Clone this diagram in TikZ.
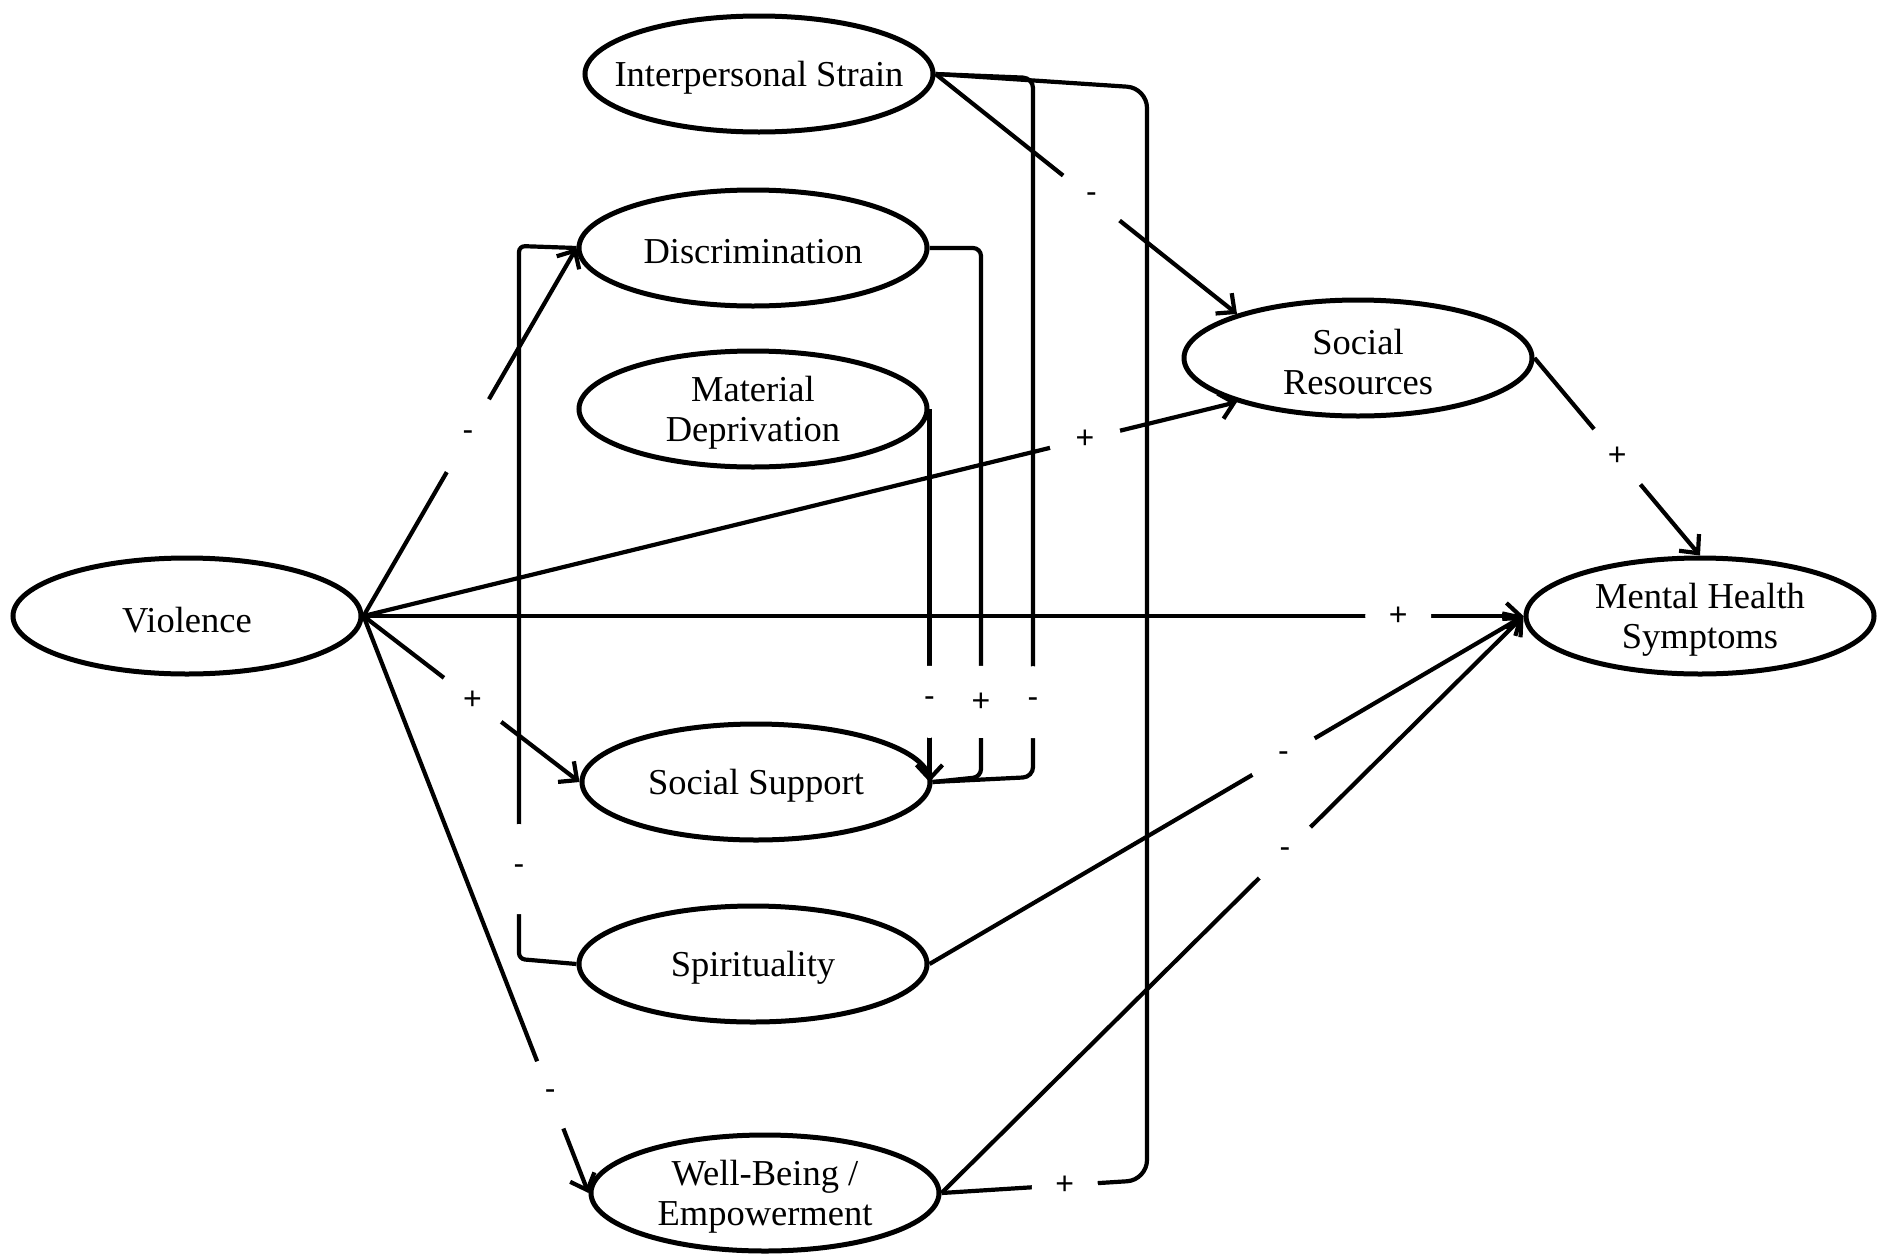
\documentclass[tikz,border=0pt]{standalone}
\usepackage{fontspec}
\setmainfont{Liberation Serif}
\newfontfamily\lblfont{Liberation Sans}
\usetikzlibrary{shapes.geometric,arrows.meta}
\newcommand{\zw}[1]{\makebox[0pt]{\raisebox{-4pt}[\height][\depth]{#1}}}
\begin{document}
\begin{tikzpicture}[x=1pt,y=-1pt,
  var/.style={ellipse,draw,line width=5pt,minimum width=348pt,minimum height=116pt,align=center,inner sep=0pt,font=\fontsize{36.5}{40}\selectfont},
  conn/.style={line width=4.2pt},
  arr/.style={conn,-{Straight Barb[length=14pt,width=26pt]}},
  lbl/.style={circle,fill=white,minimum size=72pt,inner sep=0pt,font=\lblfont\fontsize{32}{36}\selectfont}
]
\useasboundingbox (0,0) rectangle (1880,1256);

\node[var] (V)  at (187,616)  {\zw{Violence}};
\node[var] (IS) at (759,74)   {\zw{Interpersonal Strain}};
\node[var] (D)  at (753,248)  {\zw{Discrimination}};
\node[var] (MD) at (753,409)  {\zw{Material}\\\zw{Deprivation}};
\node[var] (SR) at (1358,358) {\zw{Social}\\\zw{Resources}};
\node[var] (MH) at (1700,616) {\zw{Mental Health}\\\zw{Symptoms}};
\node[var] (SS) at (756,782)  {\zw{Social Support}};
\node[var] (SP) at (753,964)  {\zw{Spirituality}};
\node[var] (WB) at (765,1193) {\zw{Well-Being /}\\\zw{Empowerment}};

% brackets
\draw[conn,rounded corners=6pt] (D.west) -- (519,246) -- (519,959) node[lbl,pos=0.874,minimum size=90pt]{-} -- (SP.west);
\draw[conn,rounded corners=8pt] (D.east) -- (981,248) -- (981,777) node[lbl,pos=0.858]{+} -- (SS.east);
\draw[conn,rounded corners=10pt] (IS.east) -- (1033,78) -- (1033,777) node[lbl,pos=0.893]{-} -- (SS.east);
\draw[arr] (MD.east) -- (MD.east |- SS.east) node[lbl,pos=0.785]{-};
\draw[conn,rounded corners=20pt] (WB.east) -- (1147,1180) node[lbl,pos=0.6,minimum size=66pt]{+} -- (1147,88) -- (IS.east);

% arrows
\draw[arr] (V.east) -- (D.west) node[lbl,pos=0.49,minimum size=84pt]{-};
\draw[arr] (V.east) -- (SR.200) node[lbl,pos=0.826]{+};
\draw[arr] (V.east) -- (MH.west) node[lbl,pos=0.892,minimum size=66pt]{+};
\draw[arr] (V.east) -- (SS.west) node[lbl,pos=0.505]{+};
\draw[arr] (V.east) -- (WB.west) node[lbl,pos=0.83]{-};
\draw[arr] (IS.east) -- (SR.160) node[lbl,pos=0.517]{-};
\draw[arr] (SR.east) -- (MH.north) node[lbl,pos=0.5]{+};
\draw[arr] (SP.east) -- (MH.west) node[lbl,pos=0.596]{-};
\draw[arr] (WB.east) -- (MH.west) node[lbl,pos=0.59]{-};
\end{tikzpicture}
\end{document}
